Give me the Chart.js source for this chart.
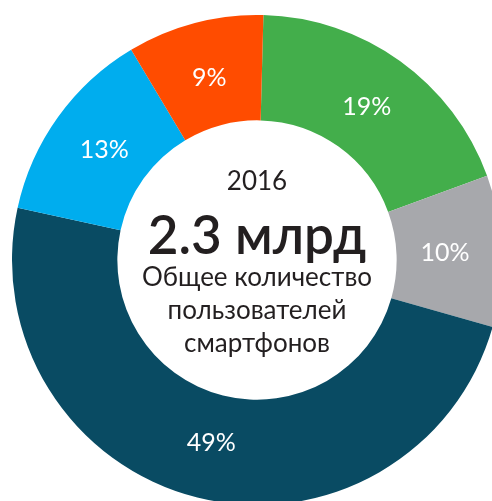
<!DOCTYPE html>
<html>
<head>
<meta charset="utf-8">
<script src="https://cdn.jsdelivr.net/npm/chart.js@4"></script>
<style>
    html, body { margin: 0; padding: 0; overflow: hidden; background: #fff; width: 492px; height: 501px; }
    #wrap { position: absolute; left: 12px; top: 15px; width: 490px; height: 490px; }
</style>
</head>
<body>
<div id="wrap"><canvas id="usersChart"></canvas></div>
<script>
// Shares of smartphone users, clockwise from the top
const segments = ['19%', '10%', '49%', '13%', '9%'];
const shares = [19, 10, 49, 13, 9];
const colors = ['#43ae4b', '#a7a8ac', '#094b63', '#00adee', '#ff4c00'];

const yearText = '2016';
const totalText = '2.3 млрд';
const captionLines = ['Общее количество', 'пользователей', 'смартфонов'];

// Draw percentage inside each slice
const sliceLabels = {
    id: 'sliceLabels',
    afterDatasetsDraw(chart) {
        const ctx = chart.ctx;
        const meta = chart.getDatasetMeta(0);
        ctx.save();
        ctx.fillStyle = '#ffffff';
        ctx.font = '400 25px Lato';
        ctx.textAlign = 'center';
        ctx.textBaseline = 'middle';
        meta.data.forEach((arc, i) => {
            const mid = (arc.startAngle + arc.endAngle) / 2;
            const r = arc.innerRadius + (arc.outerRadius - arc.innerRadius) * 0.46;
            ctx.fillText(shares[i] + '%', arc.x + Math.cos(mid) * r, arc.y + Math.sin(mid) * r);
        });
        ctx.restore();
    }
};

// Text in the hole
const centerText = {
    id: 'centerText',
    afterDraw(chart) {
        const ctx = chart.ctx;
        const arc = chart.getDatasetMeta(0).data[0];
        const cx = arc.x, cy = arc.y;
        ctx.save();
        ctx.fillStyle = '#231f20';
        ctx.textAlign = 'center';
        ctx.textBaseline = 'middle';
        ctx.font = '400 26px Lato';
        ctx.fillText(yearText, cx, cy - 78);
        ctx.font = '600 53px Lato';
        ctx.fillText(totalText, cx, cy - 23);
        ctx.font = '400 26px Lato';
        captionLines.forEach((line, i) => {
            ctx.fillText(line, cx, cy + 18 + i * 33);
        });
        ctx.restore();
    }
};

const ctx = document.getElementById('usersChart').getContext('2d');
new Chart(ctx, {
    type: 'doughnut',
    data: {
        labels: segments,
        datasets: [{
            data: shares,
            backgroundColor: colors,
            borderWidth: 0
        }]
    },
    options: {
        responsive: true,
        maintainAspectRatio: false,
        animation: false,
        cutout: '57%',
        rotation: 1.5,
        layout: { padding: 0 },
        plugins: {
            legend: { display: false },
            tooltip: { enabled: false }
        }
    },
    plugins: [sliceLabels, centerText]
});
</script>
</body>
</html>
